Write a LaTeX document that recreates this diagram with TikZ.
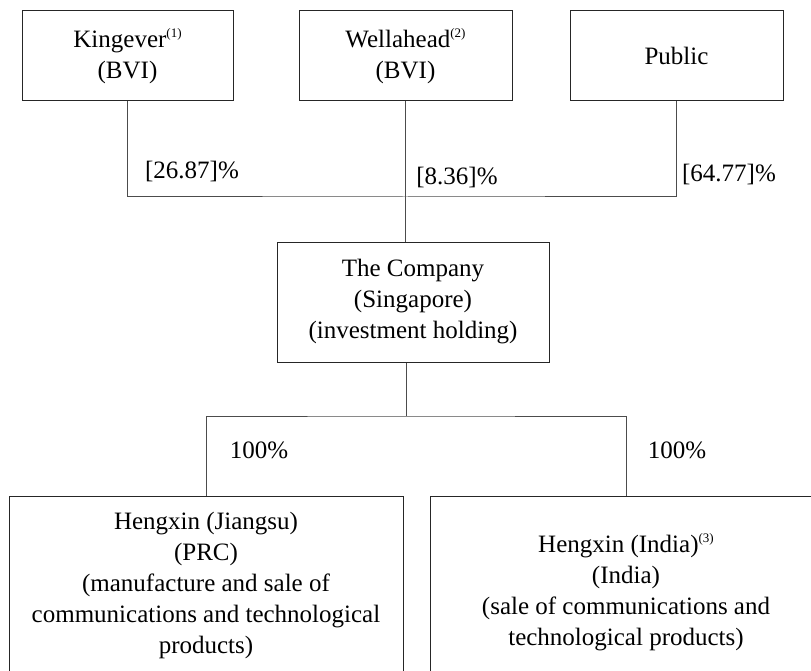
\documentclass[tikz,border=0pt]{standalone}
\usepackage{fontspec}
\setmainfont{Liberation Serif}
\newcommand{\notenum}[1]{\raisebox{9.5pt}{\fontsize{13}{13}\selectfont(#1)}}
\tikzset{
	holderstyle/.style={rectangle,draw=black!85,line width=1pt,align=center,inner sep=0pt},
	sharestyle/.style={rectangle,inner sep=0pt},
	linkstyle/.style={draw=black!70,line width=1pt}
}

\begin{document}
\begin{tikzpicture}[x=1pt,y=-1pt]
	\fontsize{25}{31}\selectfont
	\useasboundingbox (0,0) rectangle (811,671);
	\node[holderstyle,minimum width=211pt,minimum height=90pt] (king) at (127.5,56) {Kingever\notenum{1}\\(BVI)};
	\node[holderstyle,minimum width=213pt,minimum height=90pt] (well) at (405.5,56) {Wellahead\notenum{2}\\(BVI)};
	\node[holderstyle,minimum width=213pt,minimum height=90pt] (pub) at (676.5,56) {Public};
	\node[holderstyle,minimum width=272pt,minimum height=120pt] (comp) at (413,302) {The Company\\(Singapore)\\(investment holding)};
	\node[holderstyle,minimum width=394pt,minimum height=204pt] (jiangsu) at (206,598) {Hengxin (Jiangsu)\\(PRC)\\(manufacture and sale of\\communications and technological\\products)\\ \mbox{}};
	\node[holderstyle,minimum width=392pt,minimum height=192pt] (india) at (626,592) {Hengxin (India)\notenum{3}\\(India)\\(sale of communications and\\technological products)};
	\node[sharestyle] (pk) at (192,172) {[26.87]\%};
	\node[sharestyle] (pw) at (457,177) {[8.36]\%};
	\node[sharestyle] (pp) at (729,175) {[64.77]\%};
	\node[sharestyle] (pj) at (259,450) {100\%};
	\node[sharestyle] (pi) at (677,450) {100\%};
	\coordinate (top) at (405.5,197);
	\coordinate (low) at (406,416);
	\draw[linkstyle] (king.south) |- (top) -| (pub.south);
	\draw[linkstyle] (well.south) -- (well.south |- comp.north);
	\draw[linkstyle] (comp.south -| low) -- (low);
	\draw[linkstyle] (jiangsu.north) |- (low) -| (india.north);
\end{tikzpicture}
\end{document}
